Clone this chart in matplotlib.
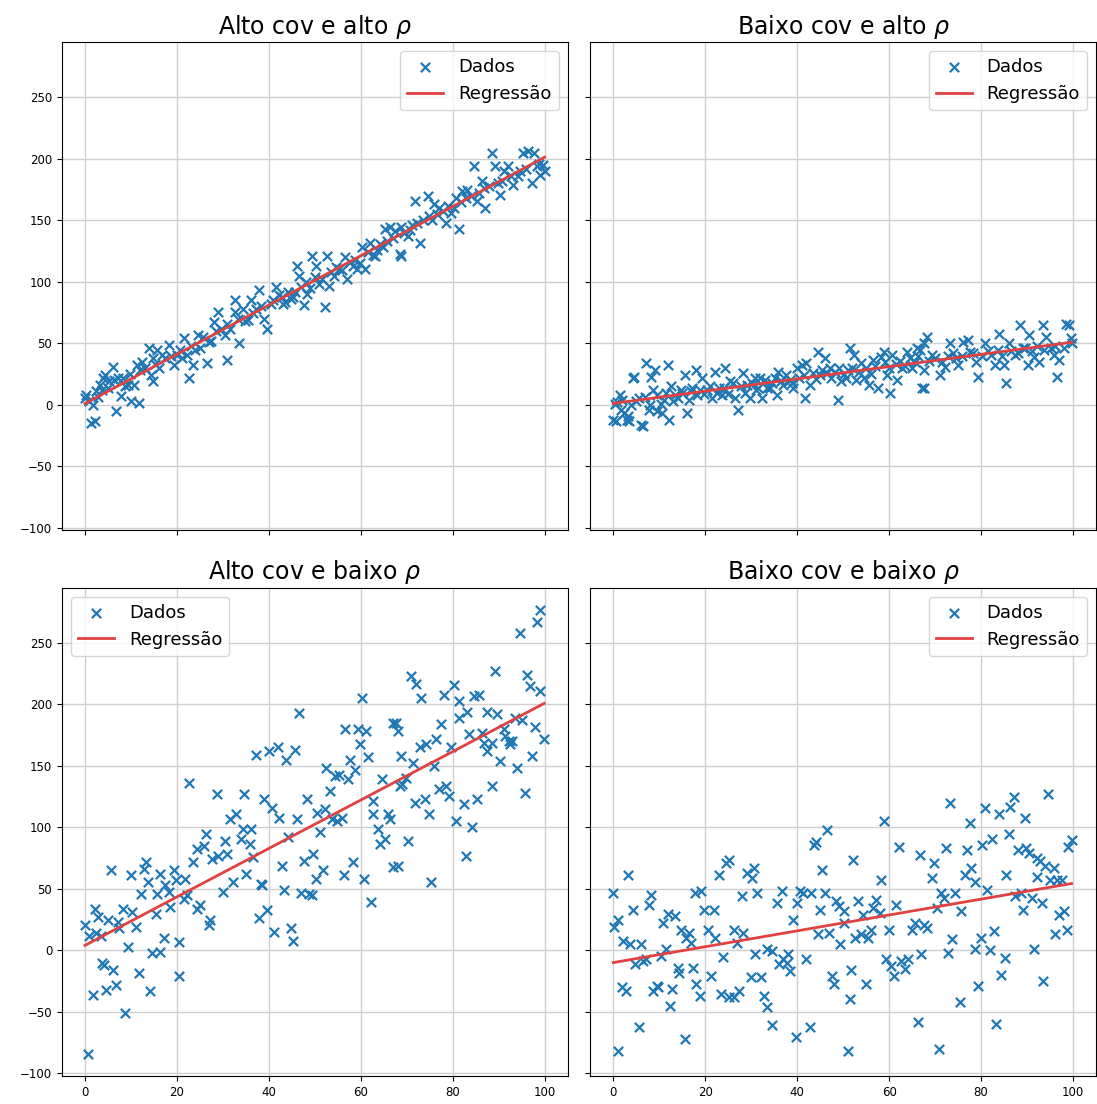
import numpy as np
import matplotlib
matplotlib.use("Agg")
import matplotlib.pyplot as plt

# ---------------- data ----------------
titles = ["Alto cov e alto $\\rho$", "Baixo cov e alto $\\rho$",
          "Alto cov e baixo $\\rho$", "Baixo cov e baixo $\\rho$"]
x_ticks = [0, 20, 40, 60, 80, 100]
y_ticks = [-100, -50, 0, 50, 100, 150, 200, 250]

# Alto cov e alto rho
alto_alto_x = [
    0, 0.3, 1.4, 2.1, 1.7, 2.4, 3.2, 3.9, 4.3, 6,
    5.3, 6.8, 7.8, 7.1, 8.2, 9.3, 10, 10.7, 11.8, 11.4,
    12.5, 14.3, 14.7, 14.7, 13.9, 15.7, 16.8, 18.2, 19.3, 20,
    21.5, 22.6, 22.2, 23.6, 24.7, 25, 26.5, 26.9, 28, 29,
    30.8, 30.5, 31.5, 32.6, 32.6,
    33.6, 34.3, 35.4, 36.1, 37.9, 39, 39.7,
    41.5, 42.2, 43, 44.8, 45.8, 46.2, 46.6, 47.6, 48.4, 49.4,
    50.3, 50.9, 52.3, 52.7, 53, 54.1, 55.2, 56.6, 57, 58.4,
    59.1, 60.2, 61, 62, 63.1, 64.2, 65.2, 66.3, 67.4, 68.5,
    68.8,
    68.8, 70.3, 71.7, 72.8, 74.6, 74.9, 76, 77.1, 78.5, 79.6,
    80.7, 81.4, 82.1, 83.2, 84.6, 85.3, 86.4, 87.1, 88.6, 89.3,
    90.4, 91.1, 92.1, 93.2, 94.3, 95.4, 96.5, 97.6, 97.2, 98.3,
    99, 100,
    0.8, 2.8, 3.6, 5, 6.4, 8.8, 9.8, 12, 13, 15.2,
    16.2, 17.4, 18.8, 20.6, 21.2, 23, 24, 25.6, 27.4, 28.6,
    29.6, 31, 33.2, 34.8, 36.6, 37.2, 38.2, 40.4, 41, 42.8,
    43.6, 44.2, 45.2, 47, 48, 49, 50, 51.6, 53.6, 54.6,
    56, 57.6, 58.8, 59.8, 61.6, 62.6, 63.6, 64.8, 65.8, 67,
    69.4, 70.8, 71.2, 72.2, 73.6, 75.6, 76.6, 78, 79, 80.2,
    81.8, 82.8, 84, 85.8, 86.8, 88, 89.8, 90.8, 92.6, 94.6,
    96, 98.8, 99.6,
]
alto_alto_y = [
    5.6, 8, -14.5, -13, 0, 11, 16, 22, 24.5, 31,
    19, -5, 7, 22, 22, 16, 3, 16, 1.6, 32.5,
    35, 24.5, 19, 38, 46, 44.6, 40.6, 48.7, 32.5, 40.6,
    54, 22, 40.6, 32.5, 56.7, 46, 34, 51, 67.5, 75.5,
    36.5, 56.7, 62, 85, 75.5,
    50, 78, 69, 85, 93, 70, 62,
    95.7, 89, 82, 86, 91.7, 113, 105, 81, 90, 121,
    113, 98, 79.6, 121, 97, 105, 110.5, 120, 102, 113,
    110.5, 128, 110.5, 132, 121, 130.6, 142.7, 145, 141, 122.6,
    145,
    121, 137, 165.6, 132, 169.6, 153.5, 163, 160, 148, 156,
    168, 142.7, 173.6, 175, 193.8, 165.6, 181.7, 160, 204.6, 193.8,
    171, 190, 193.8, 179, 185.8, 205, 206, 204.6, 180.4, 193.8,
    187, 190,
    3, 6, 12, 14, 20, 15, 25, 28, 30, 33,
    30, 38, 40, 45, 38, 48, 45, 55, 52, 60,
    62, 66, 70, 68, 75, 78, 80, 82, 85, 88,
    84, 92, 88, 96, 100, 95, 104, 102, 108, 112,
    110, 116, 118, 115, 124, 122, 126, 128, 133, 136,
    140, 142, 146, 148, 150, 150, 155, 158, 162, 160,
    165, 168, 170, 172, 176, 178, 180, 182, 186, 190,
    192, 196, 195,
]

# Baixo cov e alto rho
baixo_alto_x = [
    0.3, 0, 0.6, 1.4, 1.7, 2.4, 3.2, 2.9, 3.5, 4.2,
    4.6, 5.7, 6, 6.4, 7.1, 7.8, 8.2, 9.1, 8.6, 9.6,
    10.3, 10.7, 11.8, 12.2, 12.5, 12.9, 14, 14.7, 15.7, 16.1,
    16.8, 17.9, 18.2, 19.3, 20.4, 21.5, 22.2, 22.9, 23.6, 24.4,
    25.4, 26.5, 27.2, 28.3, 29, 29.7, 30.8, 31.5,
    32, 32.3, 33.4, 34.5, 35.6, 35.9, 37, 38.4, 39.2, 39.9,
    41, 41.7, 42, 42.7, 44.5, 44.9, 46, 47.1, 47.4, 48.9,
    49.6, 50.6, 51.4, 52.4, 52.8, 53.9, 54.6, 55.7, 56.4, 57.5,
    58.2, 58.9, 59.6, 60.3, 60.7, 61.8, 62.9, 63.9, 65, 66.1,
    67.2, 67.5,
    66.8, 68.2, 67.5, 67.5, 69.3, 71.1, 72.2, 73.3, 74, 75.1,
    76.1, 77.2, 77.6, 79, 79.4, 80.8, 82.2, 83, 84, 85.1,
    85.5, 86.2, 87.3, 88.4, 89.1, 90.2, 90.5, 91.6, 92.7, 93.4,
    94.1, 95.2, 95.9, 96.6, 97, 98.4, 99.1, 99.5,
    0.8, 2, 3.8, 5, 6.8, 8, 9.4, 11, 11.4, 13.4,
    15, 16.4, 17.2, 18.8, 19.8, 21, 22.6, 24, 25, 26,
    27.8, 28.6, 30.2, 31, 33, 34, 35.2, 36.4, 37.6, 38.8,
    40.4, 41.4, 43.4, 44, 45.4, 46.6, 48.2, 49.2, 50.2, 51,
    52, 53.4, 55, 56, 57, 59.2, 60, 61.4, 62.4, 63.4,
    64.6, 65.6, 66.4, 68.6, 70, 71.6, 72.8, 74.6, 75.8, 78.2,
    80.2, 81.6, 83.6, 84.6, 86.6, 88, 89.6, 91, 92.2, 93.8,
    96.2, 98, 99.8,
]
baixo_alto_y = [
    0.3, -12, -13, 8, -4, -6.5, -9, -12, -13, 22,
    23, 5.6, -16, -17, 34, -4, 23, 28.5, 12.4, -5,
    0.3, -6.5, 32.5, -12, 15, 3, 5.6, 12.4, 24.5, -6.5,
    11, 28.5, 8.3, 21.8, 12.4, 5.6, 27, 13.7, 8.3, 30,
    19, 5.6, -3.8, 26, 16.4, 5.6, 21.8, 13.7,
    21.8, 5.6, 13.7, 17.7, 8.3, 27, 16.4, 20.4, 13.7, 30,
    32.5, 5.6, 34, 16.4, 43.3, 24.5, 38, 30, 21.8, 4.3,
    19, 21.8, 46, 40.6, 20.4, 34, 21.8, 16.4, 36.5, 13.7,
    39, 43.3, 24.5, 9.7, 40.6, 20.4, 30, 43.3, 30, 46,
    13.7, 50,
    44.6, 55.4, 28.5, 13.7, 40.6, 24.5, 31, 50, 42, 32.5,
    51.3, 52.7, 43.3, 35, 23, 50, 40.6, 32.5, 58, 32.5,
    17.7, 50, 40.6, 64.8, 46, 32.5, 56.7, 39, 35, 64.8,
    55.4, 46, 40.6, 23, 36.5, 66, 64.8, 54,
    2, 4, 0, 3, 6, 0, 8, 4, 10, 8,
    10, 4, 14, 12, 9, 15, 10, 14, 9, 18,
    15, 10, 18, 12, 20, 14, 22, 19, 24, 18,
    22, 24, 26, 21, 28, 26, 27, 30, 25, 28,
    30, 27, 30, 25, 32, 35, 30, 33, 36, 32,
    38, 35, 40, 36, 38, 35, 40, 38, 40, 42,
    40, 44, 45, 40, 44, 42, 46, 44, 48, 45,
    48, 46, 50,
]

# Alto cov e baixo rho
alto_baixo_x = [
    0.6, 0, 0.9, 2.1, 2.8, 2.4, 3.5, 1.7, 3.7, 4.2,
    4.6, 6, 6.8, 5.7, 5, 7.1, 7.5, 8.2, 9.3, 8.8,
    10, 10.3, 11, 11.8, 12.1, 12.9, 13.2, 13.8, 14.1, 14.5,
    15.4, 15.7, 16.4, 16.4, 17.2, 17.5, 18.2, 18.6, 19.3, 19.7,
    20.4, 20.5, 21.5, 21.8, 22.2, 22.6, 23.6, 24.4, 25, 24.4,
    25.8, 26.3, 26.9, 27.2, 27.6, 28.7, 29, 30.1, 30.5, 30.8,
    31.5, 32.3,
    32.9, 34.7, 34.3, 34, 35.8, 36.1, 35.1, 36.6, 37.2, 37.9,
    38.3, 38.6, 39, 39.7, 40.1, 40.8, 41.2, 41.9, 42.2, 42.8,
    43.3, 43.8, 44.2, 44.8, 45.3, 45.6, 46.2, 46.6, 47.1, 47.6,
    48.3, 48.7, 49.4, 49.6, 50.3, 50.5, 51.2, 51.7, 52.2, 52.4,
    53.4, 53.7, 54.3, 54.8, 55.2, 55.9, 56.3, 56.6, 57.3, 57.7,
    58.4, 58.8, 59.3, 59.8, 60.3, 60.8, 61.1, 61.6, 62.2, 62.7,
    62.7, 63.8, 64.2, 64.7, 65.2, 65.9, 66.3, 67, 67, 67.7,
    68.1, 68.5, 68.8,
    68.1, 69, 69.9, 70.3, 71, 72, 71.3, 71.7, 73.1, 72.8,
    73.9, 74.2, 74.9, 75.3, 76, 76.4, 77.4, 77.1, 78.2, 78.5,
    79.2, 79.6, 80.3, 80.7, 81.4, 81.4, 82.5, 82.8, 83.2, 83.6,
    84.3, 84.6, 85.3, 85.7, 86.4, 86.8, 87.5, 87.5, 88.6, 88.6,
    89.3, 89.7, 90.4, 91.1, 91.4, 92.2, 92.5, 92.9, 94, 93.6,
    94.7, 95, 95.8, 96.1, 96.8, 97.2, 97.9, 98.3, 99, 99.1,
    99.9,
]
alto_baixo_y = [
    -84, 20.5, 12, 34, 27.5, 14, 12, -36, -10.5, -12,
    -32, -16, -28, 65, 24.5, 23, 18, 34, 3, -51,
    61, 31, 19, -18.6, 46, 66, 72, 56, -33, -2.4,
    30, 46, 62, -1, 10, 53, 47.5, 35, 65, 57,
    7, -21, 42, 58, 45, 136, 72, 34, 37, 82.5,
    85, 94.7, 20.5, 24.5, 74, 127, 77, 47.5, 89, 78.5,
    107, 56,
    111, 127, 99, 90.6, 86.6, 98.7, 62, 76, 159, 26,
    54, 53, 123, 32.6, 162, 116, 15, 165, 108, 69,
    49, 155, 92, 18, 8, 163, 107, 193, 47, 73,
    123, 46, 45, 78.5, 58, 112, 96, 65, 115, 148.6,
    130, 107, 142, 105, 143, 108, 61, 180, 139, 155,
    72, 147, 180, 167.5, 205, 58, 178, 157, 39, 121.6,
    111, 98.7, 86.6, 139, 90.6, 111, 107, 68, 185, 185,
    178, 134, 158,
    69, 135, 140.5, 89, 223, 217, 152.6, 120, 205, 165,
    123, 167.5, 111, 55.6, 150, 171.5, 183.7, 131, 208, 134,
    125.6, 165, 216, 105.4, 189, 202.5, 119, 77, 194, 175.6,
    100, 206.5, 123, 208, 177, 169, 162, 194, 134, 169,
    227, 192, 154, 180, 174, 170, 167.5, 170, 148.6, 189,
    258, 187.7, 128.4, 224, 214.6, 158, 182, 267, 210.6, 277,
    171.5,
]

# Baixo cov e baixo rho
baixo_baixo_x = [
    0, 0.2, 1.1, 1.1, 2.2, 1.8, 2.7, 3.2, 3.6, 4.3,
    4.7, 5.6, 6.1, 6.5, 7.2, 7.8, 8.3, 8.6, 9.4, 9.7,
    10.4, 10.8, 11.5, 11.9, 12.4, 12.8, 13.5, 14, 14.4, 14.7,
    15.5, 15.8, 16.5, 16.9, 17.3, 17.8, 18.1, 18.8, 19.1, 19.8,
    20.5, 21.2, 21.9, 22.2, 23, 23.4, 23.9, 24.6, 25.2, 25.2,
    26.2, 26.2, 26.9, 27.3, 28, 28.2, 29.1, 29.9, 30.2, 30.6,
    30.9, 31.3,
    32.1, 32.8, 33.5, 34.6, 33.5, 34.6, 35.6, 36.7, 36, 37,
    37.7, 38.1, 38.4, 39.2, 39.7, 39.9, 40.6, 41.3, 42, 42.7,
    43, 43.7, 44.1, 44.5, 45, 45.5, 46.1, 46.6, 46.9, 47.6,
    48, 48.4, 49, 49.4, 50.1, 50.3, 51, 51.5, 51.8, 52.2,
    52.6, 53.3, 53.8, 54.3, 55, 55.4, 56, 56.5, 57.2, 58.1,
    58.2, 58.9, 59.3, 60, 60.5, 61.1, 61.4, 62.1, 62.5, 63.5,
    64.2, 64.9, 65.7, 66.4, 66.7, 67,
    69.7, 69.3, 67.5, 68.3, 70.8, 70.4, 71.2, 71.9, 72.4, 73.3,
    73.7, 72.8, 74.4, 75.5, 75.7, 76.6, 76.9, 77.7, 77.9, 78.8,
    78.6, 79.3, 79.9, 80.2, 80.9, 81.3, 82, 82.3, 82.9, 83.3,
    83.9, 84.4, 85.2, 85.5, 86, 86.4, 87.1, 87.5, 88.1, 88.6,
    89.1, 89.5, 89.8, 90.4, 91.1, 91.5, 92.2, 92.2, 92.9, 93.3,
    93.5, 94, 94.5, 95, 95.8, 96.1, 96.6, 96.9, 97.6, 98,
    98.8, 99, 99.7,
]
baixo_baixo_y = [
    46.6, 19, 25, -81.4, 7.5, -30, -33, 61.5, 5, 33,
    -11, -62, 5, -8.6, -7.3, 37, 45, -33, -29, -30,
    -4.6, 22, 1, 30, -45, -31, 28, -14, -18, 17,
    -72, 10, 14, 6, -14, 46.6, -27.5, -37, 48, 33,
    17, -21, 33, 10, 61.5, -35.6, -5.4, 71, 73.6, -38,
    17, -38, 6, -33, 44, 14, 63, -22, 59, 67,
    -3, 47,
    -22, -37, -46, -61, 1, -0.5, 38.5, 48, -11, -7,
    -10, -3, -16.7, 25, -70.6, 38.5, 48, 46.6, -7, -62.5,
    46.6, 85.7, 88.4, 13, 33, 65.5, 46.6, 98, 14, -21,
    -27.5, 40, 36, 5, 32, 22, -81.4, -39.6, -16, 73.6,
    10, 40.4, 13, 29, -27.5, 10, 17, 34.5, 41, 30.5,
    57.4, 105, -7, 17, -12.7, -21, 37, 84.4, -8.6, -15,
    -7, 17, 22, -58.5, 77.6, -3,
    71, 59, 21, 18.3, -80, 34.5, 46.6, 42.6, 83.5, 120,
    9, -2, 46.6, -42, 32, 61.5, 81.7, 104, 67, 56,
    1, -29, 10, 86, 116, 49, 0, 91, 15.6, -60,
    111, -20, -6, 61, 95, 117, 125, 44, 81.7, 46.6,
    33, 108, 83, 79, 42.6, 1, 75, 60, 72.5, 38.5,
    -24.8, 69, 127, 57.4, 67, 13, 57.4, 29, 57.4, 32,
    17, 84, 90,
]

panels = [
    (alto_alto_x, alto_alto_y, "upper right"),
    (baixo_alto_x, baixo_alto_y, "upper right"),
    (alto_baixo_x, alto_baixo_y, "upper left"),
    (baixo_baixo_x, baixo_baixo_y, "upper right"),
]

# ---------------- figure ----------------
fig, axes = plt.subplots(2, 2, sharex=True, sharey=True,
                         figsize=(10.97, 11.04), dpi=100)
fig.subplots_adjust(left=0.0565, right=0.999, top=0.962, bottom=0.0254,
                    wspace=0.045, hspace=0.117)

for ax, (xs, ys, loc), title in zip(axes.flat, panels, titles):
    x = np.asarray(xs, dtype=float)
    y = np.asarray(ys, dtype=float)
    slope, intercept = np.polyfit(x, y, 1)
    x_line = np.array([x.min(), x.max()])

    ax.scatter(x, y, marker="x", color="#1f77b4", s=45, linewidths=1.6,
               label="Dados", zorder=3)
    ax.plot(x_line, intercept + slope * x_line, color="#e04141", lw=2,
            label="Regressão", zorder=4)

    ax.set_title(title, fontsize=17)
    ax.grid(True, color="#cfcfcf", lw=1)
    ax.set_axisbelow(True)
    ax.set_xticks(x_ticks)
    ax.set_yticks(y_ticks)
    ax.tick_params(labelsize=8.5)
    ax.legend(loc=loc, fontsize=13)

fig.savefig("out.png", dpi=100)
